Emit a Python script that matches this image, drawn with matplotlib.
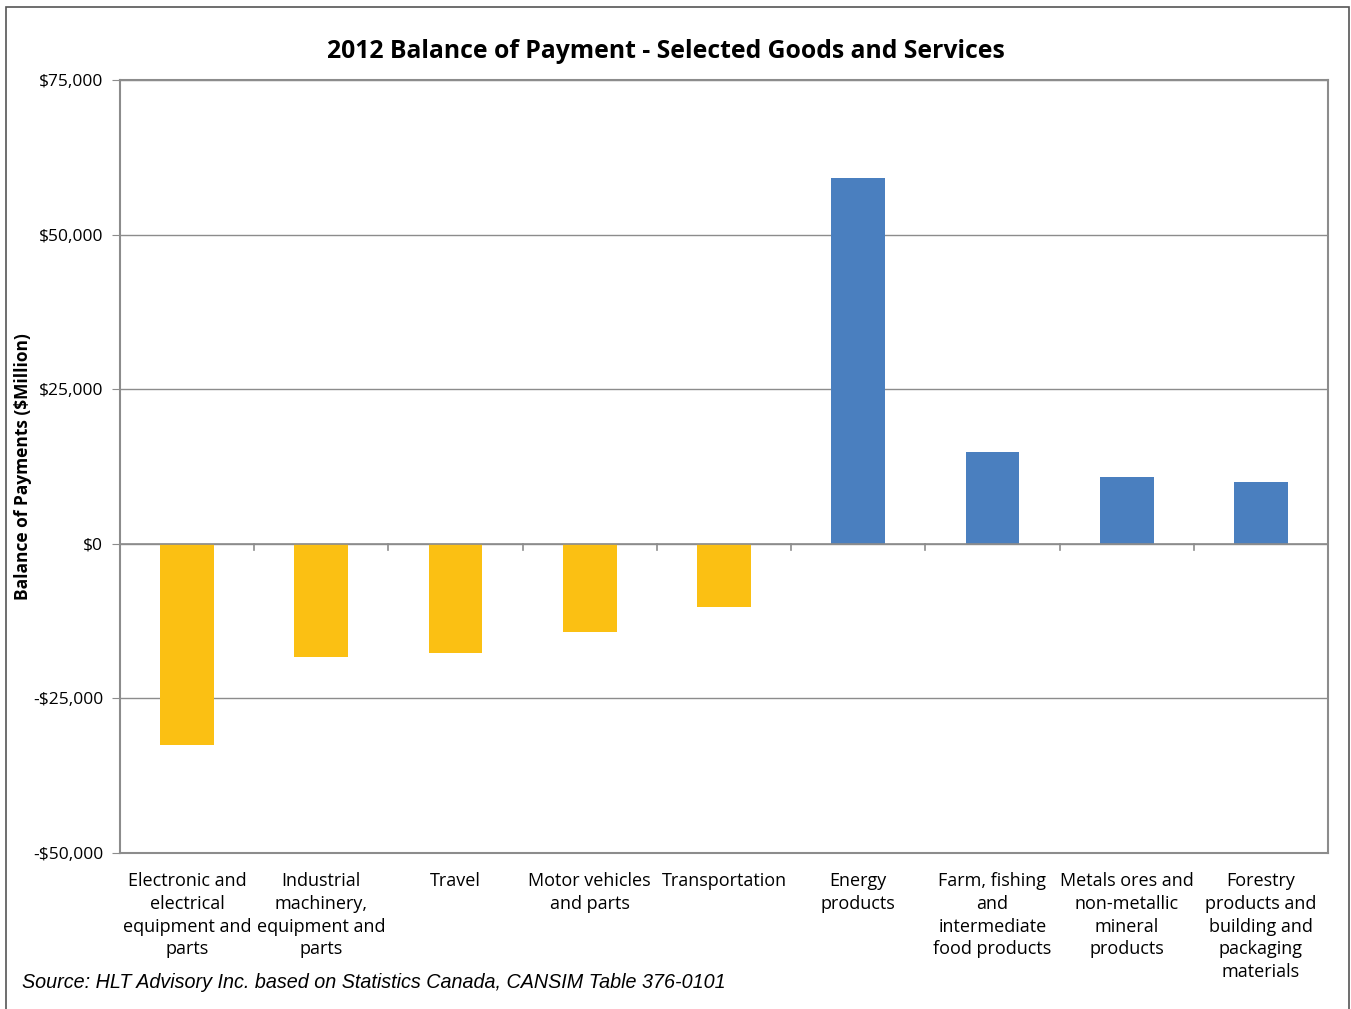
import matplotlib.pyplot as plt
import numpy as np
from matplotlib.patches import Rectangle
from matplotlib.ticker import FuncFormatter

categories = ["Electronic and\nelectrical\nequipment and\nparts",
              "Industrial\nmachinery,\nequipment and\nparts",
              "Travel",
              "Motor vehicles\nand parts",
              "Transportation",
              "Energy\nproducts",
              "Farm, fishing\nand\nintermediate\nfood products",
              "Metals ores and\nnon-metallic\nmineral\nproducts",
              "Forestry\nproducts and\nbuilding and\npackaging\nmaterials"]
balance = [-32500, -18300, -17700, -14200, -10200, 59200, 14900, 10800, 10000]

plt.rcParams['font.family'] = ['Open Sans', 'DejaVu Sans']

W, H = 1351, 1009
fig = plt.figure(figsize=(W / 100, H / 100), dpi=100)
ax = fig.add_axes([120 / W, 1 - 853 / H, (1328 - 120) / W, (853 - 80) / H])

# outer frame
fig.patches.append(Rectangle((6 / W, -0.01), (1349 - 6) / W, 1.01 - 7 / H,
                             transform=fig.transFigure, fill=False,
                             edgecolor='#555555', linewidth=1.2))

x = np.arange(len(categories))
colors = ['#FBC013' if v < 0 else '#4A7FBF' for v in balance]
ax.bar(x, balance, width=0.4, color=colors, zorder=3)

ax.set_xlim(-0.5, len(categories) - 0.5)
ax.set_ylim(-50000, 75000)
ax.set_yticks(np.arange(-50000, 75001, 25000))
ax.yaxis.set_major_formatter(FuncFormatter(
    lambda v, p: ("-$" if v < 0 else "$") + f"{abs(int(v)):,}"))
ax.grid(axis='y', color='#8c8c8c', linewidth=1.0, zorder=0)
ax.axhline(0, color='#8c8c8c', linewidth=1.2, zorder=4)

for s in ax.spines.values():
    s.set_color('#8c8c8c')
    s.set_linewidth(1.5)

ax.tick_params(axis='y', length=6, color='#8c8c8c', labelsize=12.5, pad=6)
ax.set_xticks([])
# category boundary ticks on the zero line
for b in np.arange(0.5, len(categories) - 0.5, 1):
    ax.plot([b, b], [0, -1000], color='#8c8c8c', linewidth=1.2, zorder=4)

for i, c in enumerate(categories):
    ax.annotate(c, xy=(i, 0), xycoords=('data', 'axes fraction'),
                xytext=(0, -14), textcoords='offset points',
                ha='center', va='top', fontsize=13, linespacing=1.33)

ax.set_ylabel("Balance of Payments ($Million)", fontsize=12.5,
              fontweight='bold')
ax.yaxis.set_label_coords(-88 / 1208, 0.5)
fig.text(666 / W, 1 - 51 / H, "2012 Balance of Payment - Selected Goods and Services",
         ha='center', va='center', fontsize=17.8, fontweight='bold')
fig.text(22 / W, 1 - 982 / H,
         "Source: HLT Advisory Inc. based on Statistics Canada, CANSIM Table 376-0101",
         ha='left', va='center', fontsize=14.2, style='italic',
         family=['Liberation Sans', 'DejaVu Sans'])

fig.savefig("out.png", dpi=100)
